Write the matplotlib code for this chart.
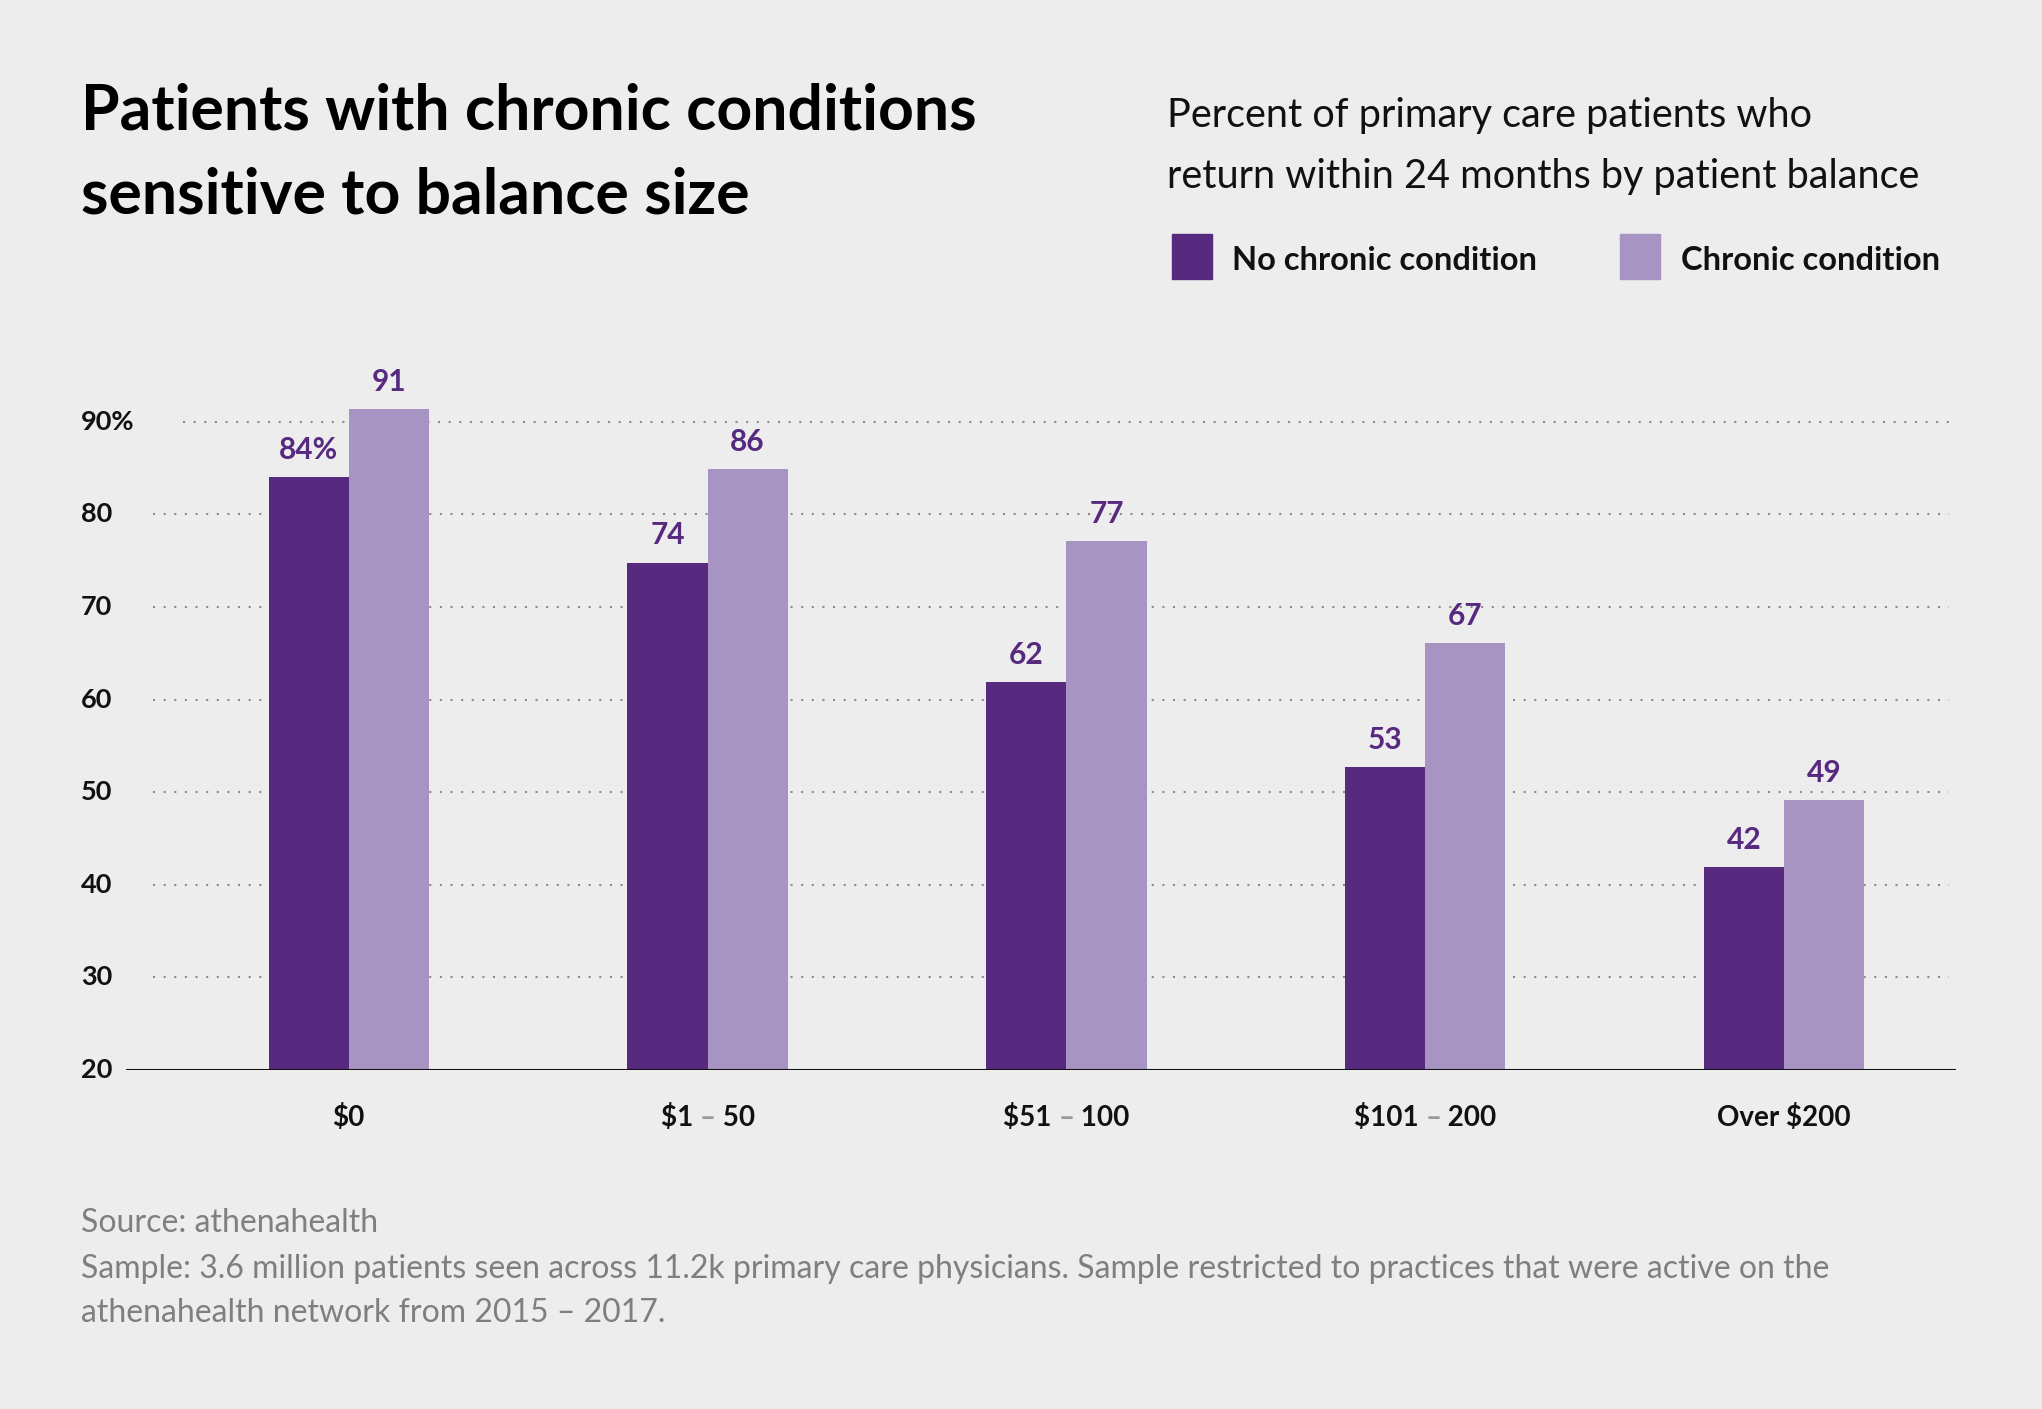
import matplotlib
matplotlib.use("Agg")
import matplotlib.pyplot as plt
from matplotlib.patches import Rectangle
from matplotlib.transforms import offset_copy

plt.rcParams['font.family'] = ['Lato', 'DejaVu Sans']

# data
groups = [["$0"], ["$1 ", "\u2013", " 50"], ["$51 ", "\u2013", " 100"],
          ["$101 ", "\u2013", " 200"], ["Over $200"]]
no_chronic = [84.0, 74.8, 61.9, 52.7, 41.9]
chronic = [91.4, 84.9, 77.1, 66.1, 49.2]
no_chronic_labels = ["84%", "74", "62", "53", "42"]
chronic_labels = ["91", "86", "77", "67", "49"]
yticks = [20, 30, 40, 50, 60, 70, 80, 90]
series_names = ["No chronic condition", "Chronic condition"]

BG = "#ededed"
DARK = "#572a80"
LIGHT = "#a794c3"
W, H = 2042, 1409

fig = plt.figure(figsize=(W / 100, H / 100), dpi=100, facecolor=BG)
ax = fig.add_axes([126 / W, 339 / H, 1830 / W, 694.5 / H])
ax.set_facecolor(BG)

x = list(range(len(groups)))
bw = 0.2232
ax.bar([i - bw / 2 for i in x], no_chronic, width=bw, color=DARK, zorder=3)
ax.bar([i + bw / 2 for i in x], chronic, width=bw, color=LIGHT, zorder=3)

ax.set_xlim(-0.6207, 4.479)
ax.set_ylim(20, 95)
ax.axis("off")

# dotted grid
for y in yticks[1:]:
    ax.axhline(y, xmin=0.031 if y == 90 else 0.015, xmax=0.996, color="#8c8c8c",
               lw=1.5, linestyle=(0, (1, 4.1)), zorder=1)
ax.axhline(20, color="#111111", lw=2.2, zorder=4)

# y labels
for y in yticks:
    ax.text(-0.0245, y, f"{y}%" if y == 90 else str(y), transform=ax.get_yaxis_transform(),
            ha="left", va="center", fontsize=19.5, fontweight="bold", color="#111111")

# value labels
for i in x:
    ax.annotate(no_chronic_labels[i], (i - bw / 2, no_chronic[i]), xytext=(0, 13),
                textcoords="offset points", ha="center", va="baseline",
                fontsize=21.5, fontweight="bold", color=DARK, zorder=5)
    ax.annotate(chronic_labels[i], (i + bw / 2, chronic[i]), xytext=(0, 13),
                textcoords="offset points", ha="center", va="baseline",
                fontsize=21.5, fontweight="bold", color=DARK, zorder=5)

# category labels, dash in grey
fig.canvas.draw()
r = fig.canvas.get_renderer()
for i, parts in enumerate(groups):
    txts = []
    for p in parts:
        t = ax.text(i, 20, p, ha="left", va="baseline", fontsize=20, fontweight="bold",
                    color="#999999" if p == "\u2013" else "#111111")
        txts.append(t)
    widths = [t.get_window_extent(r).width for t in txts]
    start = -sum(widths) / 2
    for t, w in zip(txts, widths):
        t.set_transform(offset_copy(ax.transData, fig=fig, x=start, y=-56, units="dots"))
        start += w

# title
fig.text(81 / W, 1 - 130 / H, "Patients with chronic conditions", fontsize=45,
         fontweight="bold", va="baseline", color="#000000")
fig.text(81 / W, 1 - 213 / H, "sensitive to balance size", fontsize=45,
         fontweight="bold", va="baseline", color="#000000")

# subtitle
fig.text(1167 / W, 1 - 127 / H, "Percent of primary care patients who", fontsize=28.5,
         va="baseline", color="#111111")
fig.text(1167 / W, 1 - 188 / H, "return within 24 months by patient balance", fontsize=28.5,
         va="baseline", color="#111111")

# legend
for (sx, tx), col, name in zip([(1172, 1232), (1620, 1681)], [DARK, LIGHT], series_names):
    fig.add_artist(Rectangle((sx / W, 1 - 279 / H), 40 / W, 45 / H,
                             transform=fig.transFigure, color=col))
    fig.text(tx / W, 1 - 270 / H, name, fontsize=23.5, fontweight="bold",
             va="baseline", color="#111111")

# footer
footer = ["Source: athenahealth",
          "Sample: 3.6 million patients seen across 11.2k primary care physicians. "
          "Sample restricted to practices that were active on the",
          "athenahealth network from 2015 \u2013 2017."]
for line, yb in zip(footer, [1232, 1278, 1322]):
    fig.text(81 / W, 1 - yb / H, line, fontsize=23, va="baseline", color="#7f7f7f")

fig.savefig("out.png", dpi=100, facecolor=BG)
